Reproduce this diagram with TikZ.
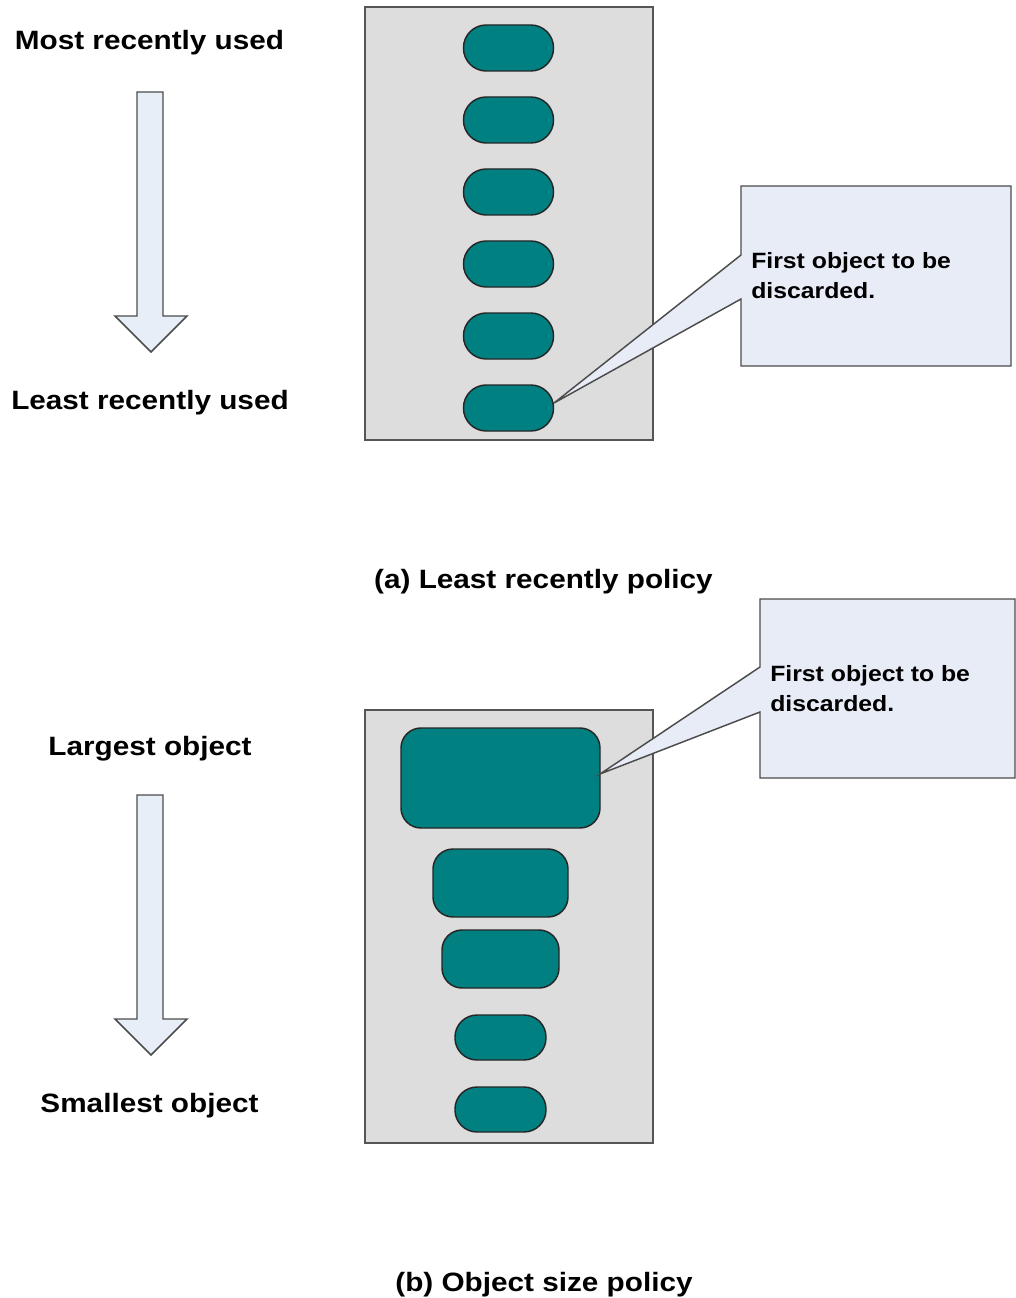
\documentclass[tikz,border=0pt]{standalone}
\usepackage{fontspec}
\setmainfont{Liberation Sans}[FakeStretch=1.12]
\definecolor{boxgray}{HTML}{DDDDDD}
\definecolor{boxedge}{HTML}{555555}
\definecolor{tealobj}{HTML}{008080}
\definecolor{calloutfill}{HTML}{E8ECF6}
\definecolor{arrowfill}{HTML}{E8EEF8}
\tikzset{
  cache/.style={draw=boxedge, fill=boxgray, line width=1.2pt},
  obj/.style={draw=black!85, fill=tealobj, line width=1.1pt, inner sep=0pt},
  blockarrow/.style={draw=black!70, fill=arrowfill, line width=1.1pt, line join=miter},
  callout/.style={draw=black!70, fill=calloutfill, line width=1.1pt},
  lbl/.style={font=\fontsize{19.9pt}{22pt}\selectfont\bfseries, inner sep=0pt, anchor=base},
  ctext/.style={font=\fontsize{16.6pt}{22.3pt}\selectfont\bfseries, inner sep=0pt, align=left, anchor=north west},
}
\begin{document}
\begin{tikzpicture}[x=0.75pt, y=-0.75pt]
\useasboundingbox (0,0) rectangle (1016,1298);
% ---------- (a) ----------
\node[lbl] (mru) at (149.5,49.5) {Most recently used};
\node[lbl] (lru) at (150,409.5) {Least recently used};
\draw[blockarrow] (137,92) -- (163,92) -- (163,316) -- (187,316) -- (151,352) -- (115,316) -- (137,316) -- cycle;
\draw[cache] (365,7) rectangle (653,440);
\foreach \i/\yy in {1/48,2/120,3/192,4/264,5/336,6/408}{
  \node[obj, minimum width=67.5pt, minimum height=34.5pt, rounded corners=17pt] (p\i) at (508.5,\yy) {};
}
\coordinate (tipa) at (554,403);
\draw[callout] (741,186) -- (1011,186) -- (1011,366) -- (741,366) -- (741,299) -- (tipa) -- (741,255) -- cycle;
\node[ctext] (ca) at (751,252.5) {First object to be\\discarded.};
\node[lbl] (capa) at (543.5,588.5) {(a) Least recently policy};
% ---------- (b) ----------
\node[lbl] (lo) at (150,755) {Largest object};
\node[lbl] (so) at (149.5,1112) {Smallest object};
\draw[blockarrow] (137,795) -- (163,795) -- (163,1019) -- (187,1019) -- (151,1055) -- (115,1019) -- (137,1019) -- cycle;
\draw[cache] (365,710) rectangle (653,1143);
\node[obj, minimum width=149.25pt, minimum height=75pt, rounded corners=15pt] (o1) at (500.5,778) {};
\node[obj, minimum width=101.25pt, minimum height=51pt, rounded corners=15pt] (o2) at (500.5,883) {};
\node[obj, minimum width=87.75pt, minimum height=43.5pt, rounded corners=15pt] (o3) at (500.5,959) {};
\node[obj, minimum width=68.25pt, minimum height=33.75pt, rounded corners=16.5pt] (o4) at (500.5,1037.5) {};
\node[obj, minimum width=68.25pt, minimum height=33.75pt, rounded corners=16.5pt] (o5) at (500.5,1109.5) {};
\coordinate (tipb) at (600,774);
\draw[callout] (760,599) -- (1015,599) -- (1015,778) -- (760,778) -- (760,712) -- (tipb) -- (760,667) -- cycle;
\node[ctext] (cb) at (770,665) {First object to be\\discarded.};
\node[lbl] (capb) at (544,1291) {(b) Object size policy};
\end{tikzpicture}
\end{document}
